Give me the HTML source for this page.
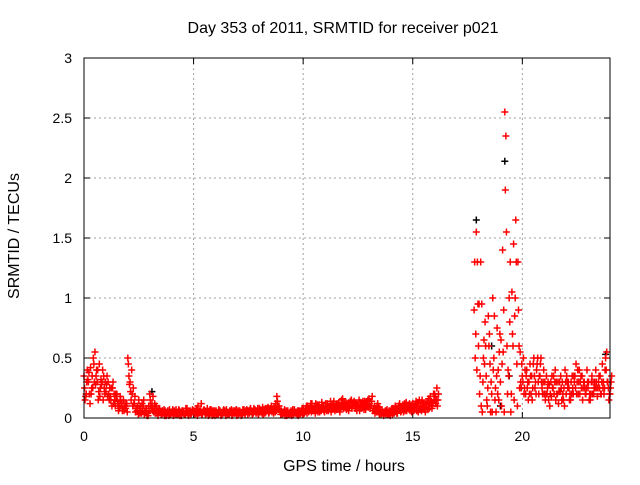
<!DOCTYPE html>
<html><head><meta charset="utf-8">
<style>
body{margin:0;background:#fff;}
svg text{font-family:"Liberation Sans",sans-serif;font-size:14px;fill:#000;}
svg text.big{font-size:16px;}
</style></head>
<body>
<svg id="chart" width="640" height="480" viewBox="0 0 640 480" xmlns="http://www.w3.org/2000/svg">
<rect width="640" height="480" fill="#fff"/>
<g id="grid"></g>
<g id="ticks"></g>
<g id="black"></g>
<g id="red"></g>
<rect x="84" y="58" width="526" height="360" fill="none" stroke="#000" stroke-width="1"/>
<text class="big" x="343" y="33" text-anchor="middle">Day 353 of 2011, SRMTID for receiver p021</text>
<text class="big" x="344" y="471" text-anchor="middle">GPS time / hours</text>
<text class="big" x="19" y="236" text-anchor="middle" transform="rotate(-90 19 236)">SRMTID / TECUs</text>
</svg>
<script>
const xTicks=[0,5,10,15,20];
const yTicks=[0,0.5,1,1.5,2,2.5,3];
const yTickLabels=["0","0.5","1","1.5","2","2.5","3"];
const timesA=[0.0,0.1,0.2,0.3,0.4,0.5,0.6,0.7,0.8,0.9,1.0,1.1,1.2,1.3,1.4,1.5,1.6,1.7,1.8,1.9,2.0,2.1,2.2,2.3,2.4,2.5,2.6,2.7,2.8,2.9,3.0,3.1,3.2,3.3,3.4,3.5,3.6,3.7,3.8,3.9,4.0,4.1,4.2,4.3,4.4,4.5,4.6,4.7,4.8,4.9,5.0,5.1,5.2,5.3,5.4,5.5,5.6,5.7,5.8,5.9,6.0,6.1,6.2,6.3,6.4,6.5,6.6,6.7,6.8,6.9,7.0,7.1,7.2,7.3,7.4,7.5,7.6,7.7,7.8,7.9,8.0,8.1,8.2,8.3,8.4,8.5,8.6,8.7,8.8,8.9,9.0,9.1,9.2,9.3,9.4,9.5,9.6,9.7,9.8,9.9,10.0,10.1,10.2,10.3,10.4,10.5,10.6,10.7,10.8,10.9,11.0,11.1,11.2,11.3,11.4,11.5,11.6,11.7,11.8,11.9,12.0,12.1,12.2,12.3,12.4,12.5,12.6,12.7,12.8,12.9,13.0,13.1,13.2,13.3,13.4,13.5,13.6,13.7,13.8,13.9,14.0,14.1,14.2,14.3,14.4,14.5,14.6,14.7,14.8,14.9,15.0,15.1,15.2,15.3,15.4,15.5,15.6,15.7,15.8,15.9,16.0,16.1];
const valuesA1=[.35,.2,.3,.42,.25,.55,.3,.45,.28,.35,.22,.3,.18,.25,.15,.2,.12,.1,.15,.08,.5,.3,.2,.12,.08,.15,.05,.1,.06,.04,.2,.12,.08,.1,.06,.05,.04,.06,.05,.07,.04,.05,.07,.03,.05,.06,.04,.08,.05,.04,.06,.04,.1,.05,.03,.06,.04,.05,.07,.03,.05,.04,.06,.03,.05,.07,.04,.05,.06,.04,.05,.06,.04,.07,.05,.06,.08,.05,.07,.06,.08,.06,.07,.05,.09,.06,.07,.08,.18,.1,.06,.05,.04,.06,.03,.05,.07,.04,.06,.05,.08,.06,.1,.07,.12,.08,.06,.09,.07,.1,.08,.12,.1,.07,.14,.09,.11,.08,.16,.1,.12,.09,.15,.1,.08,.11,.13,.09,.14,.1,.16,.1,.06,.08,.12,.05,.07,.04,.06,.03,.05,.08,.1,.04,.12,.07,.1,.13,.09,.08,.12,.08,.1,.15,.06,.12,.09,.14,.18,.1,.2,.25];
const valuesA2=[.15,.4,.2,.25,.45,.35,.15,.25,.4,.2,.35,.15,.25,.12,.2,.1,.18,.06,.1,.12,.35,.15,.25,.05,.1,.04,.12,.03,.08,.1,.1,.18,.04,.06,.08,.03,.07,.02,.04,.03,.07,.03,.04,.06,.02,.04,.08,.03,.06,.07,.03,.07,.05,.12,.06,.03,.05,.07,.02,.06,.03,.07,.02,.06,.04,.03,.06,.02,.04,.07,.03,.04,.07,.03,.06,.04,.05,.08,.04,.03,.05,.09,.04,.08,.05,.1,.04,.12,.1,.05,.03,.07,.02,.04,.06,.03,.04,.06,.03,.08,.04,.1,.05,.12,.06,.04,.11,.05,.13,.06,.1,.06,.14,.09,.06,.12,.07,.15,.08,.13,.08,.14,.1,.13,.06,.15,.08,.12,.07,.15,.08,.18,.1,.05,.09,.03,.05,.06,.03,.05,.08,.04,.06,.1,.05,.11,.06,.08,.12,.05,.06,.14,.05,.1,.12,.07,.13,.08,.1,.2,.12,.15];
const valuesA3=[.25,.3,.38,.2,.5,.28,.4,.18,.3,.25,.28,.2,.15,.3,.1,.14,.08,.12,.06,.1,.45,.22,.1,.18,.06,.08,.04,.15,.05,.02,.15,.08,.12,.04,.07,.03,.05,.04,.06,.03,.05,.06,.03,.07,.04,.05,.03,.06,.04,.05,.05,.08,.04,.06,.05,.04,.08,.03,.05,.04,.06,.03,.05,.04,.06,.05,.03,.07,.05,.05,.06,.05,.03,.05,.07,.05,.06,.04,.06,.08,.07,.04,.06,.07,.04,.08,.06,.05,.14,.07,.05,.04,.06,.03,.05,.07,.05,.03,.05,.06,.06,.08,.07,.09,.08,.1,.07,.11,.06,.09,.12,.09,.08,.11,.1,.07,.13,.1,.11,.09,.1,.12,.08,.14,.11,.09,.1,.14,.1,.12,.12,.14,.08,.06,.05,.07,.04,.05,.07,.06,.07,.06,.09,.07,.08,.09,.12,.06,.1,.11,.09,.11,.13,.07,.15,.09,.11,.16,.14,.13,.18,.1];
const valuesA4=[.18,.32,.12,.35,.3,.4,.22,.32,.15,.3,.18,.25,.1,.2,.18,.06,.15,.08,.12,.05,.28,.4,.12,.08,.03,.1,.08,.06,.02,.06,.08,.05,.1,.02,.05,.06,.02,.03,.02,.05,.02,.04,.05,.02,.06,.03,.05,.02,.03,.06,.04,.02,.06,.03,.07,.05,.02,.04,.06,.02,.04,.05,.03,.07,.02,.04,.05,.03,.06,.02,.04,.02,.05,.06,.03,.07,.03,.06,.05,.04,.06,.03,.08,.06,.07,.05,.09,.06,.08,.03,.04,.02,.05,.04,.02,.04,.05,.02,.04,.03,.05,.04,.08,.05,.06,.12,.05,.07,.08,.05,.06,.1,.05,.12,.08,.1,.05,.09,.12,.07,.06,.1,.12,.08,.1,.06,.11,.07,.12,.09,.1,.06,.04,.1,.03,.04,.02,.03,.04,.02,.03,.05,.04,.08,.06,.05,.08,.1,.06,.07,.1,.06,.08,.12,.09,.05,.07,.12,.08,.15,.15,.2];
const timesB=[17.8,17.9,18.0,18.1,18.2,18.3,18.4,18.5,18.6,18.7,18.8,18.9,19.0,19.1,19.2,19.3,19.4,19.5,19.6,19.7,19.8,19.9,20.0,20.1,20.2,20.3,20.4,20.5,20.6,20.7,20.8,20.9,21.0,21.1,21.2,21.3,21.4,21.5,21.6,21.7,21.8,21.9,22.0,22.1,22.2,22.3,22.4,22.5,22.6,22.7,22.8,22.9,23.0,23.1,23.2,23.3,23.4,23.5,23.6,23.7,23.8,23.9,24.0];
const valuesB1=[.9,1.55,.6,1.3,.3,.8,.1,.7,.2,.5,.05,.4,.3,1.4,2.55,.6,1.0,.2,1.45,1.65,1.3,.55,.35,.25,.4,.3,.2,.45,.3,.5,.35,.25,.2,.35,.15,.3,.25,.4,.2,.3,.15,.25,.2,.3,.15,.25,.35,.3,.4,.25,.3,.2,.25,.15,.2,.3,.25,.35,.2,.3,.5,.3,.2];
const valuesB2=[.5,1.3,.2,.95,.65,.35,.85,.05,1.0,.15,.75,.55,.1,.9,2.35,.4,1.3,.7,.85,.45,.6,.25,.5,.2,.3,.45,.15,.35,.4,.2,.5,.3,.15,.25,.1,.35,.2,.3,.12,.35,.2,.4,.3,.15,.2,.35,.45,.2,.3,.15,.25,.4,.15,.3,.2,.4,.25,.35,.45,.25,.55,.15,.3];
const valuesB3=[1.3,.4,.95,.1,.5,.6,.25,.45,.05,.85,.35,.15,.65,.55,1.9,.2,.8,1.05,.15,1.3,.9,.3,.3,.4,.25,.2,.35,.5,.2,.3,.45,.2,.3,.2,.28,.18,.35,.15,.3,.22,.3,.1,.35,.25,.3,.2,.25,.4,.2,.35,.3,.25,.3,.2,.3,.25,.18,.25,.3,.2,.4,.25,.25];
const valuesB4=[.7,.95,.35,.05,.45,.15,.6,.3,.4,.25,.2,.7,.45,.05,1.55,.35,.05,.6,1.0,.1,.25,.45,.2,.35,.15,.35,.25,.25,.45,.35,.3,.4,.2,.3,.2,.25,.3,.2,.22,.25,.15,.3,.25,.2,.35,.3,.2,.3,.35,.25,.2,.3,.2,.35,.25,.3,.3,.2,.25,.4,.3,.2,.35];
const blackTimes=[17.9,19.2,18.6,19.4,23.8,3.1,19.0];
const blackValues=[1.65,2.14,0.6,0.35,0.53,0.22,0.1];

const NS="http://www.w3.org/2000/svg";
const X0=84,X1=610,Y0=418,Y1=58;
function sx(t){return X0+(t-0)/(24-0)*(X1-X0);}
function sy(v){return Y0-(v-0)/(3-0)*(Y0-Y1);}
function mk(tag,attrs,parent){const e=document.createElementNS(NS,tag);for(const k in attrs)e.setAttribute(k,attrs[k]);parent.appendChild(e);return e;}
const grid=document.getElementById('grid'),ticks=document.getElementById('ticks');
xTicks.forEach(t=>{
  const x=sx(t);
  if(t>0){const g=mk('line',{x1:x,x2:x,y1:Y1,y2:Y0,stroke:'#a0a0a0','stroke-dasharray':'2,3'},grid);
  
  }
  mk('line',{x1:x,x2:x,y1:Y0,y2:Y0-6,stroke:'#000'},ticks);
  mk('line',{x1:x,x2:x,y1:Y1,y2:Y1+6,stroke:'#000'},ticks);
  const l=mk('text',{x:x,y:Y0+23,'text-anchor':'middle'},ticks);l.textContent=String(t);
  
  
});
yTicks.forEach((v,i)=>{
  const y=sy(v);
  if(v>0&&v<3){const g=mk('line',{x1:X0,x2:X1,y1:y,y2:y,stroke:'#a0a0a0','stroke-dasharray':'2,3'},grid);
  
  }
  mk('line',{x1:X0,x2:X0+6,y1:y,y2:y,stroke:'#000'},ticks);
  mk('line',{x1:X1,x2:X1-6,y1:y,y2:y,stroke:'#000'},ticks);
  const l=mk('text',{x:X0-12,y:y+5,'text-anchor':'end'},ticks);l.textContent=yTickLabels[i];
  
  
});
function cross(g,t,v,col){
  const x=sx(t),y=sy(v);
  const p=mk('path',{d:`M${x-3.5} ${y}H${x+3.5}M${x} ${y-3.5}V${y+3.5}`,stroke:col,'stroke-width':1.5,fill:'none'},g);
  
  
}
const black=document.getElementById('black'),red=document.getElementById('red');
blackTimes.forEach((t,i)=>cross(black,t,blackValues[i],'#000'));
timesA.forEach((t,i)=>{
  cross(red,t,valuesA1[i],'#f00');
  cross(red,t+0.025,valuesA3[i],'#f00');
  cross(red,t+0.05,valuesA2[i],'#f00');
  cross(red,t+0.075,valuesA4[i],'#f00');
});
timesB.forEach((t,i)=>{
  cross(red,t,valuesB1[i],'#f00');
  cross(red,t+0.025,valuesB3[i],'#f00');
  cross(red,t+0.05,valuesB2[i],'#f00');
  cross(red,t+0.075,valuesB4[i],'#f00');
});
</script>
</body></html>
